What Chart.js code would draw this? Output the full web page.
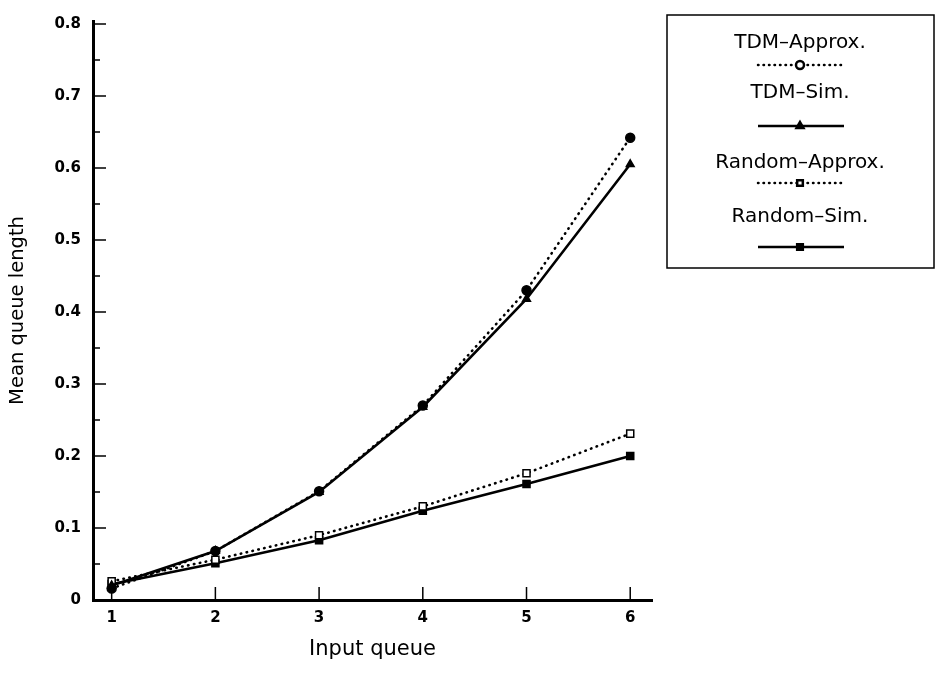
<!DOCTYPE html>
<html>
<head>
<meta charset="utf-8">
<script src="https://cdn.jsdelivr.net/npm/chart.js@4.4.1/dist/chart.umd.min.js"></script>
<style>
html, body { margin: 0; padding: 0; background: #fff; }
#wrap { width: 936px; height: 674px; }
</style>
</head>
<body>
<div id="wrap"><canvas id="chart" width="936" height="674"></canvas></div>
<script>
// valeurs
const inputQueues = [1, 2, 3, 4, 5, 6];
const tdmApprox = [0.016, 0.068, 0.151, 0.270, 0.430, 0.642];
const tdmSim = [0.020, 0.068, 0.150, 0.268, 0.418, 0.605];
const randomApprox = [0.026, 0.056, 0.090, 0.130, 0.176, 0.231];
const randomSim = [0.022, 0.051, 0.083, 0.124, 0.161, 0.200];
const yTickValues = [0, 0.1, 0.2, 0.3, 0.4, 0.5, 0.6, 0.7, 0.8];
const yMinorValues = [0.05, 0.15, 0.25, 0.35, 0.45, 0.55, 0.65, 0.75];
const seriesLabels = ['TDM–Approx.', 'TDM–Sim.', 'Random–Approx.', 'Random–Sim.'];

const FONT = "'DejaVu Sans', sans-serif";
const toPoints = (ys) => ys.map((y, i) => ({ x: inputQueues[i], y }));

// petites graduations vers l'intérieur
const innerTicks = {
    id: 'innerTicks',
    afterDraw(chart) {
        const { ctx, chartArea, scales } = chart;
        ctx.save();
        ctx.strokeStyle = '#000';
        ctx.lineWidth = 1.5;
        ctx.beginPath();
        yTickValues.forEach(v => {
            const y = scales.y.getPixelForValue(v);
            ctx.moveTo(chartArea.left, y);
            ctx.lineTo(chartArea.left + 13, y);
        });
        yMinorValues.forEach(v => {
            const y = scales.y.getPixelForValue(v);
            ctx.moveTo(chartArea.left, y);
            ctx.lineTo(chartArea.left + 7, y);
        });
        inputQueues.forEach(v => {
            const x = scales.x.getPixelForValue(v);
            ctx.moveTo(x, chartArea.bottom);
            ctx.lineTo(x, chartArea.bottom - 13);
        });
        ctx.stroke();
        ctx.restore();
    }
};

// légende encadrée à droite
const boxLegend = {
    id: 'boxLegend',
    afterDraw(chart) {
        const { ctx } = chart;
        const left = 667, top = 15, right = 934, bottom = 268;
        const cx = 800;
        const textY = [43, 93, 163, 217];
        const lineY = [65, 126, 183, 247];
        ctx.save();
        ctx.strokeStyle = '#000';
        ctx.lineWidth = 1.5;
        ctx.strokeRect(left, top, right - left, bottom - top);
        ctx.font = `20px ${FONT}`;
        ctx.textAlign = 'center';
        ctx.textBaseline = 'middle';
        chart.data.datasets.forEach((ds, i) => {
            ctx.fillStyle = '#000';
            ctx.fillText(ds.label, cx, textY[i]);
            const dotted = ds.borderDash.length > 0;
            ctx.beginPath();
            ctx.lineWidth = dotted ? 2.5 : 2.5;
            ctx.lineCap = dotted ? 'round' : 'butt';
            ctx.setLineDash(dotted ? [0.5, 5] : []);
            ctx.moveTo(cx - 42, lineY[i]);
            ctx.lineTo(cx + 44, lineY[i]);
            ctx.stroke();
            ctx.setLineDash([]);
            ctx.lineCap = 'butt';
            ctx.fillStyle = dotted ? '#fff' : '#000';
            ctx.strokeStyle = '#000';
            Chart.helpers.drawPoint(ctx, { pointStyle: ds.pointStyle, radius: 4, borderWidth: 1.8 }, cx, lineY[i]);
        });
        ctx.restore();
    }
};

const baseDs = {
    borderColor: '#000',
    pointBorderColor: '#000',
    borderWidth: 2.6,
    pointRadius: 4.5,
    pointBorderWidth: 1.5,
    tension: 0,
    fill: false
};

new Chart(document.getElementById('chart'), {
    type: 'line',
    data: {
        datasets: [
            { ...baseDs, label: seriesLabels[0], data: toPoints(tdmApprox), borderDash: [0.5, 5.5], borderCapStyle: 'round',
              pointStyle: 'circle', pointBackgroundColor: '#000' },
            { ...baseDs, label: seriesLabels[1], data: toPoints(tdmSim), borderDash: [],
              pointStyle: 'triangle', pointBackgroundColor: '#000' },
            { ...baseDs, label: seriesLabels[2], data: toPoints(randomApprox), borderDash: [0.5, 5.5], borderCapStyle: 'round',
              pointStyle: 'rect', pointBackgroundColor: '#fff', pointRadius: 5 },
            { ...baseDs, label: seriesLabels[3], data: toPoints(randomSim), borderDash: [],
              pointStyle: 'rect', pointBackgroundColor: '#000', pointRadius: 5 }
        ]
    },
    options: {
        responsive: false,
        animation: false,
        layout: { padding: { top: 15, right: 284, bottom: 0, left: 0 } },
        plugins: { legend: { display: false }, tooltip: { enabled: false } },
        scales: {
            x: {
                type: 'linear',
                min: 0.82,
                max: 6.21,
                afterBuildTicks: (s) => { s.ticks = inputQueues.map(v => ({ value: v })); },
                afterFit: (s) => { s.height = 74; },
                grid: { display: false, drawTicks: false },
                border: { display: true, color: '#000', width: 3 },
                ticks: { color: '#000', padding: 9, font: { family: FONT, size: 15, weight: 'bold' } },
                title: { display: true, text: 'Input queue', color: '#000', padding: { top: 0, bottom: 12 },
                         font: { family: FONT, size: 21 } }
            },
            y: {
                min: 0,
                max: 0.804,
                afterBuildTicks: (s) => { s.ticks = yTickValues.map(v => ({ value: v })); },
                afterFit: (s) => { s.width = 93; },
                grid: { display: false, drawTicks: false },
                border: { display: true, color: '#000', width: 3 },
                ticks: {
                    color: '#000', padding: 12, font: { family: FONT, size: 15, weight: 'bold' },
                    callback: (v) => v === 0 ? '0' : v.toFixed(1)
                },
                title: { display: true, text: 'Mean queue length', color: '#000', padding: { top: 6, bottom: 0 },
                         font: { family: FONT, size: 19.5 } }
            }
        }
    },
    plugins: [innerTicks, boxLegend]
});
</script>
</body>
</html>
